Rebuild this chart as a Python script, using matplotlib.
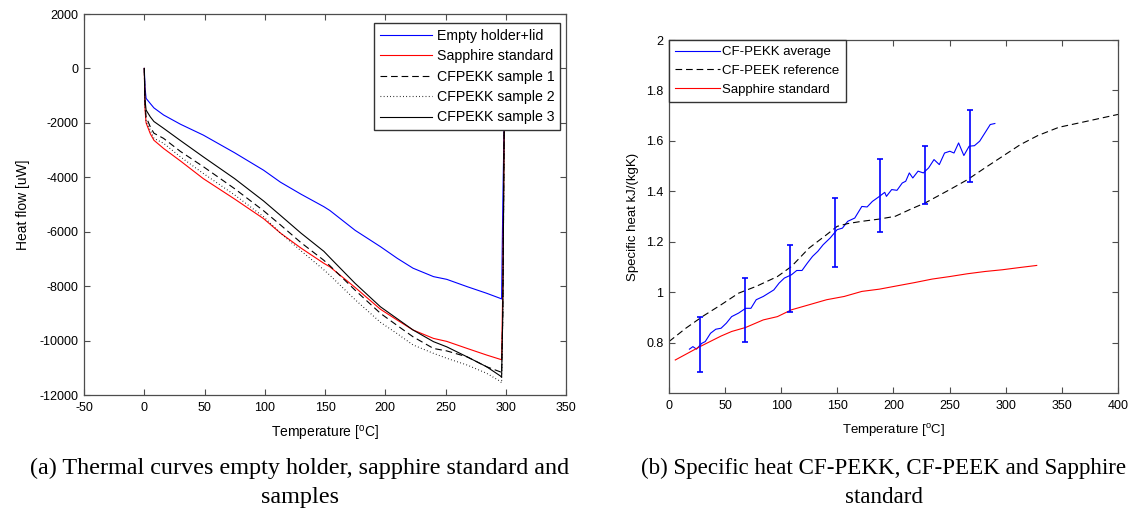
import numpy as np
import matplotlib
matplotlib.use('Agg')
import matplotlib.pyplot as plt
from matplotlib.ticker import FuncFormatter

plt.rcParams['font.family'] = ['Liberation Sans', 'DejaVu Sans']
plt.rcParams['mathtext.default'] = 'regular'
plt.rcParams['axes.unicode_minus'] = False

# (a) thermal curves, temperature [C] vs heat flow [uW]
temp_a = [0, 0.6, 1.5, 5, 8, 16, 30, 49, 75, 99, 113, 130, 149, 154, 175, 196,
          210, 223, 240, 251, 268, 284, 295.5, 296.5, 297.5, 298.6, 300]
empty_holder = [0, -700, -1100, -1290, -1450, -1710, -2050, -2450, -3100, -3740,
                -4180, -4620, -5080, -5220, -5950, -6550, -6980, -7340, -7650,
                -7750, -8020, -8260, -8450, -8470, -5000, -2000, -500]
sapphire_a = [0, -1500, -2000, -2400, -2640, -2940, -3400, -4050, -4800, -5520,
              -6050, -6600, -7160, -7290, -8050, -8850, -9250, -9610, -9920,
              -10030, -10290, -10530, -10690, -10700, -8000, -2500, -500]
sample1 = [0, -1300, -1780, -2150, -2380, -2570, -3050, -3610, -4420, -5230,
           -5750, -6400, -7050, -7250, -8150, -9000, -9450, -9860, -10290,
           -10380, -10600, -10960, -11150, -11200, -9000, -2400, -500]
sample2 = [0, -1400, -1950, -2270, -2570, -2750, -3250, -3860, -4650, -5450,
           -6050, -6700, -7400, -7600, -8500, -9330, -9750, -10160, -10470,
           -10650, -10900, -11200, -11500, -11550, -9000, -2400, -500]
sample3 = [0, -1150, -1530, -1780, -1950, -2200, -2650, -3250, -4050, -4870,
           -5400, -6050, -6720, -6950, -7900, -8760, -9200, -9610, -10040,
           -10230, -10600, -10960, -11300, -11350, -9000, -2400, -500]

# (b) specific heat kJ/(kgK)
temp_pekk = [18.2, 21.3, 24.5, 29.2, 32.3, 37, 41.7, 46.4, 51.1, 55.8, 62, 68.3,
             73, 77.7, 84, 88.7, 93.4, 98.1, 102.8, 109.1, 113.8, 118.5, 123.2,
             127.9, 132.6, 137.3, 143.6, 149.8, 154.5, 159.2, 165.5, 171.8,
             176.5, 181.2, 187.5, 192.2, 193.7, 198.4, 203.1, 207.8, 210.9,
             214.1, 217.2, 221.9, 226.6, 231.3, 236.1, 240.8, 245.5, 250.2,
             253.9, 258, 262.7, 267.4, 272.1, 276.8, 281.5, 286.2, 290.3]
cp_pekk = [0.774, 0.784, 0.774, 0.797, 0.804, 0.837, 0.853, 0.857, 0.877, 0.903,
           0.917, 0.936, 0.936, 0.970, 0.983, 0.996, 1.009, 1.036, 1.056, 1.069,
           1.086, 1.086, 1.115, 1.142, 1.162, 1.188, 1.215, 1.248, 1.254, 1.281,
           1.294, 1.340, 1.338, 1.360, 1.380, 1.396, 1.380, 1.407, 1.404, 1.433,
           1.440, 1.473, 1.453, 1.480, 1.473, 1.493, 1.526, 1.506, 1.552, 1.559,
           1.552, 1.592, 1.542, 1.579, 1.581, 1.599, 1.632, 1.665, 1.669]
err_T = [28, 68, 108, 148, 188, 228, 268]
err_low = [0.682, 0.804, 0.923, 1.098, 1.237, 1.348, 1.438]
err_high = [0.903, 1.058, 1.188, 1.372, 1.528, 1.581, 1.722]

temp_peek = [0, 15, 30.7, 46.4, 62, 77.7, 96.6, 109.1, 124.8, 140.4, 149.8, 159.2,
             171.8, 187.5, 201.6, 215.7, 228.2, 250.2, 265.8, 281.5, 297.2, 312.9,
             328.5, 347.3, 366.1, 400]
cp_peek = [0.804, 0.857, 0.906, 0.950, 0.996, 1.023, 1.062, 1.102, 1.175, 1.228,
           1.261, 1.272, 1.281, 1.290, 1.301, 1.330, 1.354, 1.407, 1.446, 1.493,
           1.539, 1.585, 1.621, 1.654, 1.672, 1.705]

temp_sapph = [5.6, 27.6, 46.4, 55.8, 68.3, 84, 96.6, 109.1, 124.8, 140.4, 156.1,
              171.8, 187.5, 203.1, 218.8, 234.5, 250.2, 265.8, 281.5, 297.2,
              312.9, 327.6]
cp_sapph = [0.731, 0.784, 0.826, 0.844, 0.860, 0.890, 0.903, 0.930, 0.950, 0.970,
            0.983, 1.003, 1.012, 1.025, 1.038, 1.052, 1.062, 1.073, 1.082, 1.089,
            1.098, 1.106]


def style_axes(ax):
    for s in ax.spines.values():
        s.set_color('0.3')
        s.set_linewidth(0.9)
    ax.tick_params(direction='in', top=True, right=True, length=4.5, width=0.8,
                   color='0.3', labelsize=9)
    ax.tick_params(axis='x', pad=5)
    ax.tick_params(axis='y', pad=4)


fig = plt.figure(figsize=(11.31, 5.13), dpi=100)

ax1 = fig.add_axes([0.0743, 0.230, 0.4262, 0.7427])
ax1.plot(temp_a, empty_holder, color='b', lw=0.8, label='Empty holder+lid')
ax1.plot(temp_a, sapphire_a, color='r', lw=0.8, label='Sapphire standard')
ax1.plot(temp_a, sample1, color='k', lw=0.8, dashes=(6, 3.5), label='CFPEKK sample 1')
ax1.plot(temp_a, sample2, color='k', lw=0.8, dashes=(0.7, 2.2), label='CFPEKK sample 2')
ax1.plot(temp_a, sample3, color='k', lw=0.8, label='CFPEKK sample 3')
ax1.set_xlim(-50, 350)
ax1.set_ylim(-12000, 2000)
ax1.set_xticks(np.arange(-50, 351, 50))
ax1.set_yticks(np.arange(-12000, 2001, 2000))
ax1.set_xlabel('Temperature [$^{o}$C]', fontsize=10, labelpad=7)
ax1.set_ylabel('Heat flow [uW]', fontsize=10, labelpad=7)
style_axes(ax1)
leg1 = ax1.legend(loc='upper right', bbox_to_anchor=(0.9876, 0.9756), borderaxespad=0,
                  fontsize=10.2, handlelength=3.7, handletextpad=0.3, labelspacing=0.45,
                  fancybox=False, framealpha=1, edgecolor='0.2', borderpad=0.4)
leg1.get_frame().set_linewidth(1.0)

ax2 = fig.add_axes([0.5915, 0.2339, 0.397, 0.688])
ax2.plot(temp_pekk, cp_pekk, color='b', lw=0.8, label='CF-PEKK average')
ax2.plot(temp_peek, cp_peek, color='k', lw=0.8, dashes=(6, 3.5), label='CF-PEEK reference')
ax2.plot(temp_sapph, cp_sapph, color='r', lw=0.8, label='Sapphire standard')
err_mid = [(lo + hi) / 2 for lo, hi in zip(err_low, err_high)]
err_half = [(hi - lo) / 2 for lo, hi in zip(err_low, err_high)]
ax2.errorbar(err_T, err_mid, yerr=err_half, fmt='none', ecolor='b', elinewidth=1.2,
             capsize=2.5, capthick=1.2)
ax2.set_xlim(0, 400)
ax2.set_ylim(0.6, 2)
ax2.set_xticks(np.arange(0, 401, 50))
ax2.set_yticks([0.8, 1.0, 1.2, 1.4, 1.6, 1.8, 2.0])
ax2.yaxis.set_major_formatter(FuncFormatter(lambda v, p: '%g' % round(v, 2)))
ax2.set_xlabel('Temperature [$^{o}$C]', fontsize=9.5, labelpad=7)
ax2.set_ylabel('Specific heat kJ/(kgK)', fontsize=9.5, labelpad=5)
style_axes(ax2)
leg2 = ax2.legend(loc='upper left', bbox_to_anchor=(0, 1), borderaxespad=0,
                  fontsize=9.5, handlelength=3.4, handletextpad=0.2, labelspacing=0.5,
                  fancybox=False, framealpha=1, edgecolor='0.2', borderpad=0.45)
leg2.get_frame().set_linewidth(1.0)

cap_font = dict(family='Liberation Serif', ha='center', va='center', linespacing=1.45)
fig.text(0.265, 0.0585, '(a) Thermal curves empty holder, sapphire standard and\nsamples',
         fontsize=17.4, **cap_font)
fig.text(0.7816, 0.0585, '(b) Specific heat CF-PEKK, CF-PEEK and Sapphire\nstandard',
         fontsize=16.6, **cap_font)

fig.savefig('out.png', dpi=100)
